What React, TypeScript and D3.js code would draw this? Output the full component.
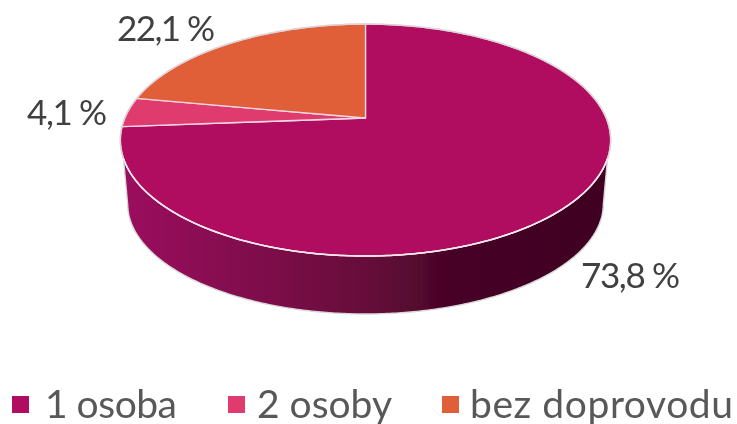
import React from "react";
import * as d3 from "d3";

const categories = ["1 osoba", "2 osoby", "bez doprovodu"];
const values = [73.8, 4.1, 22.1];
const valueLabels = ["73,8 %", "4,1 %", "22,1 %"];
const colors = ["#b01061", "#e03a6e", "#e05e37"];

const W = 737, H = 424;
const cx = 365.5, apexY = 118, R = 240.7, A = 111.8, k = 0.19;
// simple perspective projection of the pie disc
const project = (t: number): [number, number] => {
  const u = Math.sin(t), v = -Math.cos(t), w = 1 - k * v;
  return [cx + (R * u) / w, apexY + (A * v) / w];
};
const topCy = 140;
const lower = (p: [number, number]): [number, number] => [
  cx + (p[0] - cx) * 0.97,
  204 + (p[1] - topCy) * 0.948,
];
const line = d3.line<[number, number]>();
const sample = (a0: number, a1: number, n = 120) => d3.range(n + 1).map((i) => a0 + ((a1 - a0) * i) / n);

const arcs = d3.pie<number>().sort(null)(values);
const slicePath = (a0: number, a1: number) =>
  line([[cx, apexY], ...sample(a0, a1).map(project)])! + "Z";

// front wall: the rim from where it leaves the disc's widest part, down to a smaller disc
const rimAngles = sample(Math.PI * 0.4, Math.PI * 1.6, 360);
const wallTop = rimAngles.map(project).filter((p) => p[1] >= 158);
const wallBottom = rimAngles.filter((t) => project(t)[1] >= topCy).map((t) => lower(project(t)));
const wallPath = line([...wallTop, ...wallBottom.slice().reverse()])! + "Z";
const wallFrontEdge = line(wallTop)!;
const wallOuterEdge = line([wallTop[0], ...wallBottom, wallTop[wallTop.length - 1]])!;

const labelX = [581, 27, 117];
const labelY = [288, 125, 41];
const labelLen = [99, 80, 98];
const legendSwatchX = [12, 228, 442];
const legendTextX = [45, 257, 470];
const legendTextLen = [132, 135, 263];
const font = "'Lato', 'Open Sans', sans-serif";

export default function App() {
  return (
    <svg width={W} height={H} viewBox={`0 0 ${W} ${H}`} style={{ position: "absolute", left: 0, top: 0, background: "#fff" }}>
      <defs>
        <linearGradient id="wall" gradientUnits="userSpaceOnUse" x1={120} x2={611} y1={0} y2={0}>
          <stop offset="0" stopColor="#9c0e5f" />
          <stop offset="0.3" stopColor="#7d0b4a" />
          <stop offset="0.5" stopColor="#660a3a" />
          <stop offset="0.68" stopColor="#470526" />
          <stop offset="1" stopColor="#3f0423" />
        </linearGradient>
        <filter id="soft" x="-2%" y="-2%" width="104%" height="104%">
          <feGaussianBlur stdDeviation="0.45" />
        </filter>
      </defs>
      <g filter="url(#soft)">
        <path d={wallPath} fill="url(#wall)" />
        <path d={wallOuterEdge} fill="none" stroke="#d8d8d8" strokeWidth={1.4} />
        {arcs.map((a, i) => (
          <path key={i} d={slicePath(a.startAngle, a.endAngle)} fill={colors[i]} stroke="#f3d9e4" strokeWidth={1.3} strokeLinejoin="round" />
        ))}
        <path d={line(sample(0, 2 * Math.PI, 360).map(project))!} fill="none" stroke="#dcd4d8" strokeWidth={1.5} />
        <path d={wallFrontEdge} fill="none" stroke="#f6e8ee" strokeWidth={1.5} />
        {valueLabels.map((t, i) => (
          <text key={i} x={labelX[i]} y={labelY[i]} fontFamily={font} fontSize={35} fill="#404040" textLength={labelLen[i]} lengthAdjust="spacing">{t}</text>
        ))}
        {categories.map((c, i) => (
          <g key={c}>
            <rect x={legendSwatchX[i]} y={396} width={17} height={17} fill={colors[i]} />
            <text x={legendTextX[i]} y={418} fontFamily={font} fontSize={39} fill="#595959" textLength={legendTextLen[i]} lengthAdjust="spacing">{c}</text>
          </g>
        ))}
      </g>
    </svg>
  );
}
